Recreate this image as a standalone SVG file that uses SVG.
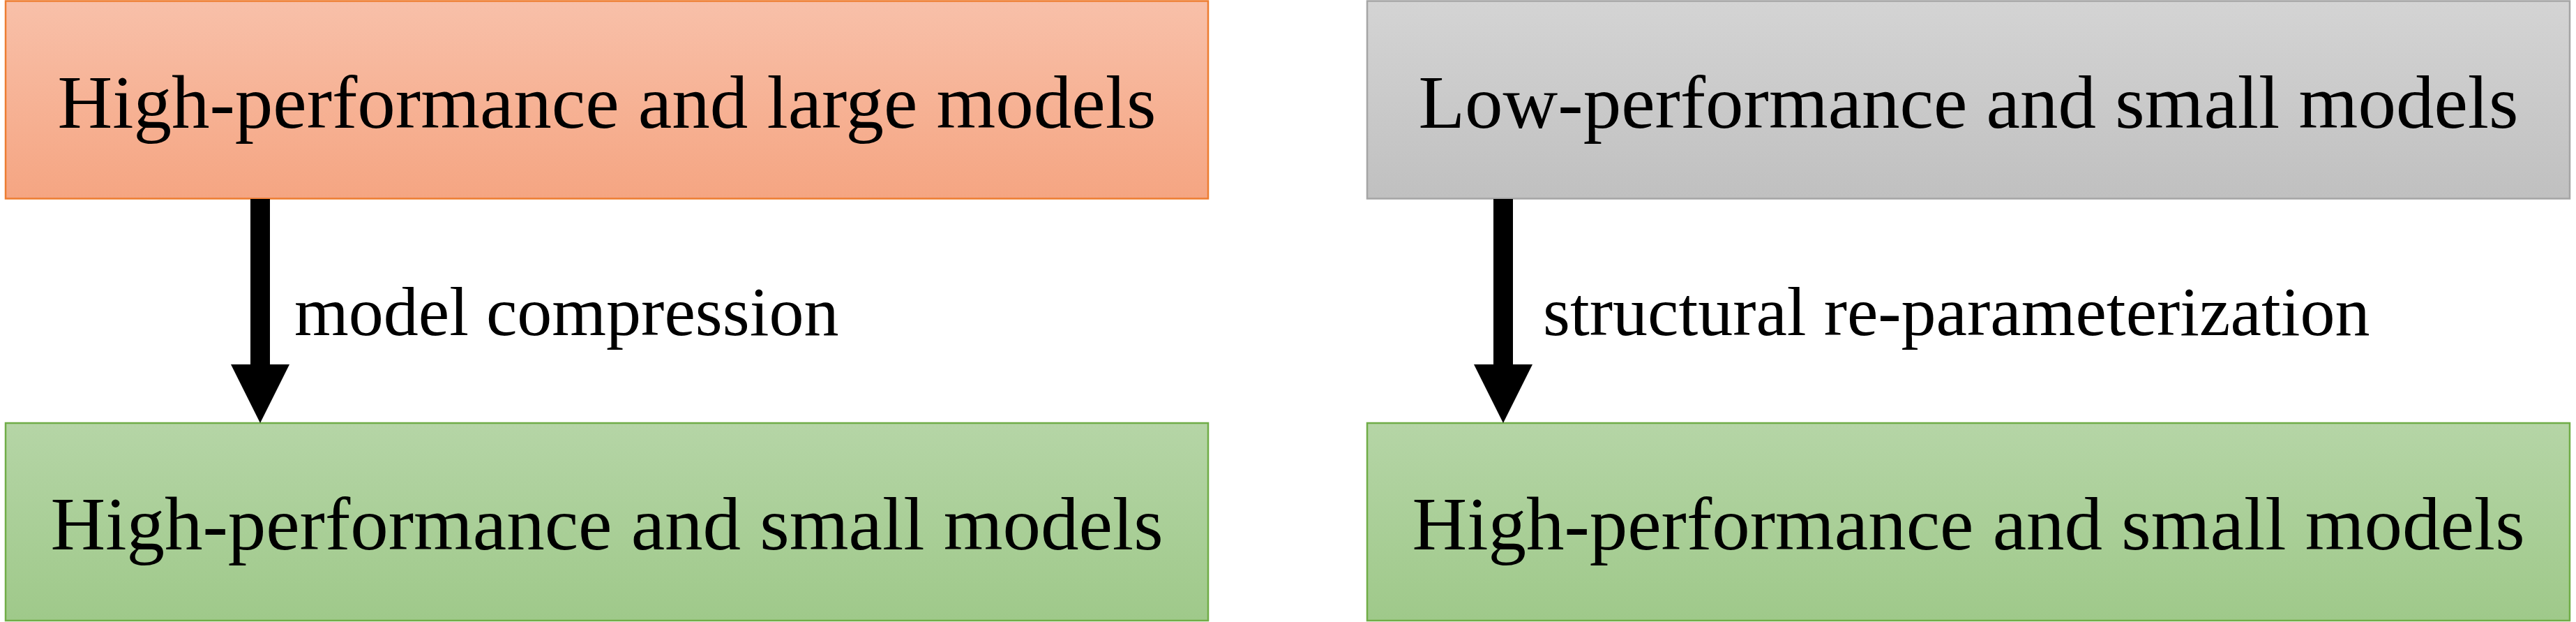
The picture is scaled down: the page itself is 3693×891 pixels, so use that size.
<svg xmlns="http://www.w3.org/2000/svg" width="3693" height="891" viewBox="0 0 3693 891">
<defs>
<linearGradient id="gOrange" x1="0" y1="0" x2="0" y2="1"><stop offset="0" stop-color="#f8c0a9"/><stop offset="1" stop-color="#f5a582"/></linearGradient>
<linearGradient id="gGray" x1="0" y1="0" x2="0" y2="1"><stop offset="0" stop-color="#d4d4d4"/><stop offset="1" stop-color="#c0c0c0"/></linearGradient>
<linearGradient id="gGreen" x1="0" y1="0" x2="0" y2="1"><stop offset="0" stop-color="#b5d5a6"/><stop offset="1" stop-color="#9fc98a"/></linearGradient>
<style>
.main{font-family:"Liberation Serif","Times New Roman",serif;font-size:109px;fill:#000;text-anchor:middle}
.lbl{font-family:"Liberation Serif","Times New Roman",serif;font-size:100px;fill:#000}
.box{stroke-width:2.5}
.arrow{fill:#000}
</style>
</defs>
<rect width="3693" height="891" fill="#fff"/>
<g id="node-high-large">
<rect class="box" x="8" y="1.5" width="1724" height="283" fill="url(#gOrange)" stroke="#ed7d31"/>
<text class="main" x="870" y="183">High-performance and large models</text>
</g>
<g id="node-high-small-left">
<rect class="box" x="8" y="606" width="1724" height="283" fill="url(#gGreen)" stroke="#70ad47"/>
<text class="main" x="870" y="787">High-performance and small models</text>
</g>
<g id="node-low-small">
<rect class="box" x="1960" y="1.5" width="1724" height="283" fill="url(#gGray)" stroke="#a5a5a5"/>
<text class="main" x="2822" y="183">Low-performance and small models</text>
</g>
<g id="node-high-small-right">
<rect class="box" x="1960" y="606" width="1724" height="283" fill="url(#gGreen)" stroke="#70ad47"/>
<text class="main" x="2822" y="787">High-performance and small models</text>
</g>
<g id="connectors">
<polygon class="arrow" points="359,285 387,285 387,522 415,522 373,606 331,522 359,522"/>
<text class="lbl" x="422" y="480">model compression</text>
<polygon class="arrow" points="2141,285 2169,285 2169,522 2197,522 2155,606 2113,522 2141,522"/>
<text class="lbl" x="2212" y="480">structural re-parameterization</text>
</g>
</svg>
